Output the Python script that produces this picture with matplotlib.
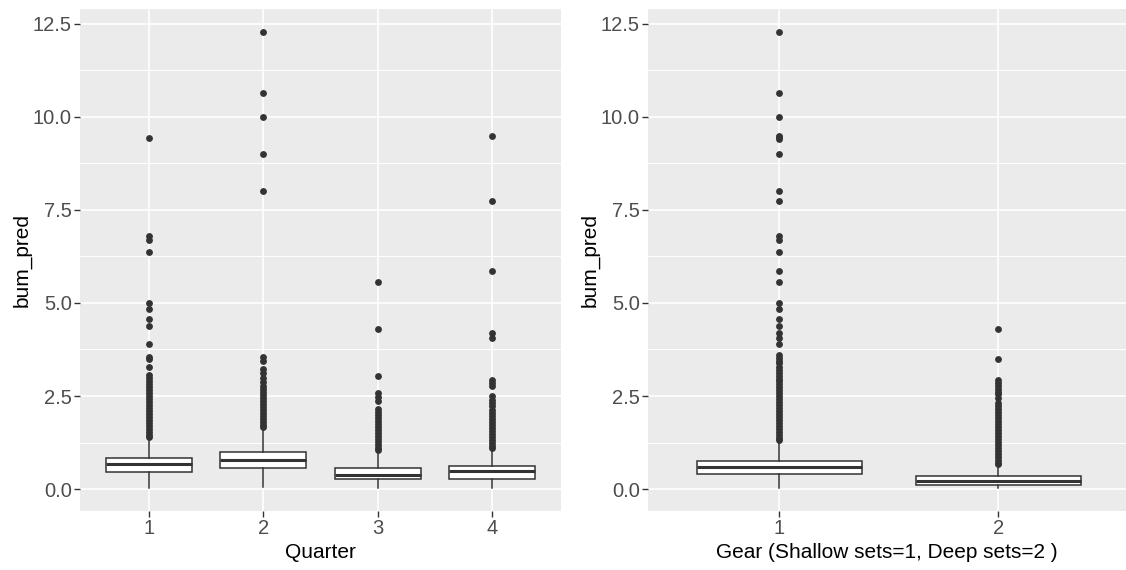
import numpy as np
import matplotlib
matplotlib.use("Agg")
import matplotlib.pyplot as plt
from matplotlib.ticker import MultipleLocator

plt.rcParams['font.family'] = ['Liberation Sans', 'DejaVu Sans']

# ---------------- data ----------------
quarters = ["1", "2", "3", "4"]
q_q1 = [0.47, 0.56, 0.26, 0.26]
q_med = [0.66, 0.78, 0.39, 0.49]
q_q3 = [0.84, 1.00, 0.57, 0.62]
q_lo = [0.035, 0.06, 0.035, 0.035]
q_hi = [1.37, 1.60, 1.02, 1.07]

q1_out = [9.43, 6.80, 6.68, 6.36, 4.99, 4.84, 4.57, 4.37, 3.89, 3.55, 3.50, 3.27,
          3.06, 2.98, 2.90, 2.82, 2.74, 2.66, 2.58, 2.50, 2.42, 2.34, 2.26, 2.18,
          2.10, 2.02, 1.94, 1.86, 1.78, 1.70, 1.62, 1.54, 1.46, 1.40]
q2_out = [12.29, 10.65, 10.00, 9.00, 8.01, 3.55, 3.45, 3.22, 3.12, 2.98, 2.88,
          2.76, 2.68, 2.60, 2.52, 2.44, 2.36, 2.28, 2.20, 2.12, 2.04, 1.96, 1.88,
          1.80, 1.72, 1.66]
q3_out = [5.56, 4.30, 3.05, 2.58, 2.47, 2.37, 2.14, 2.06, 1.98, 1.90, 1.82, 1.74,
          1.66, 1.58, 1.50, 1.42, 1.34, 1.26, 1.18, 1.10, 1.05]
q4_out = [9.50, 7.74, 5.87, 4.19, 4.07, 2.93, 2.85, 2.76, 2.50, 2.40, 2.30, 2.22,
          2.12, 2.04, 1.96, 1.88, 1.80, 1.72, 1.64, 1.56, 1.48, 1.40, 1.32, 1.24,
          1.16, 1.10]
quarter_outliers = [q1_out, q2_out, q3_out, q4_out]

gears = ["1", "2"]
g_q1 = [0.41, 0.12]
g_med = [0.59, 0.22]
g_q3 = [0.76, 0.34]
g_lo = [0.035, 0.02]
g_hi = [1.30, 0.65]

g1_out = [12.29, 10.65, 10.00, 9.50, 9.45, 9.40, 9.00, 8.01, 7.74, 6.80, 6.68,
          6.36, 5.87, 5.56, 4.99, 4.84, 4.57, 4.37, 4.19, 4.07, 3.89, 3.60, 3.52,
          3.45, 3.39, 3.29, 3.21, 3.13, 3.05, 2.97, 2.89, 2.81, 2.73, 2.65, 2.57,
          2.49, 2.41, 2.33, 2.25, 2.17, 2.09, 2.01, 1.93, 1.85, 1.77, 1.69, 1.61,
          1.53, 1.45, 1.37, 1.32]
g2_out = [4.30, 3.49, 2.93, 2.85, 2.77, 2.70, 2.62, 2.55, 2.46, 2.31, 2.23, 2.15,
          2.07, 1.99, 1.91, 1.83, 1.75, 1.67, 1.59, 1.51, 1.43, 1.35, 1.27, 1.19,
          1.11, 1.03, 0.95, 0.87, 0.79, 0.71, 0.67]
gear_outliers = [g1_out, g2_out]

y_ticks = [0.0, 2.5, 5.0, 7.5, 10.0, 12.5]
y_tick_labels = ["0.0", "2.5", "5.0", "7.5", "10.0", "12.5"]
y_label = "bum_pred"
x_label_left = "Quarter"
x_label_right = "Gear (Shallow sets=1, Deep sets=2 )"

# ---------------- figure ----------------
W, H = 1126, 570
fig = plt.figure(figsize=(W / 100, H / 100), dpi=100)

panel_bottom = (H - 511) / H
panel_height = (511 - 9) / H
ax1 = fig.add_axes([80 / W, panel_bottom, (561 - 80) / W, panel_height])
ax2 = fig.add_axes([648 / W, panel_bottom, (1126 - 648) / W, panel_height])

dark = '#333333'


def draw(ax, cats, q1, med, q3, lo, hi, outs, xlim, xlabel):
    stats = []
    for i in range(len(cats)):
        stats.append(dict(q1=q1[i], med=med[i], q3=q3[i], whislo=lo[i],
                          whishi=hi[i], fliers=np.array(outs[i])))
    pos = list(range(1, len(cats) + 1))
    ax.set_facecolor('#EBEBEB')
    ax.bxp(stats, positions=pos, widths=0.75, patch_artist=True,
           showcaps=False, showfliers=True,
           boxprops=dict(facecolor='white', edgecolor=dark, linewidth=1.1),
           medianprops=dict(color=dark, linewidth=2.2, solid_capstyle='butt'),
           whiskerprops=dict(color=dark, linewidth=1.1),
           flierprops=dict(marker='o', markerfacecolor=dark,
                           markeredgecolor=dark, markersize=3.9,
                           linestyle='none'),
           zorder=3)
    ax.set_xlim(*xlim)
    ax.set_ylim(-0.59, 12.90)
    ax.set_xticks(pos)
    ax.set_xticklabels(cats)
    ax.set_yticks(y_ticks)
    ax.set_yticklabels(y_tick_labels)
    ax.yaxis.set_minor_locator(MultipleLocator(1.25))
    ax.grid(which='major', color='white', linewidth=1.2, zorder=0)
    ax.grid(which='minor', axis='y', color='white', linewidth=0.7, zorder=0)
    ax.set_axisbelow(True)
    for s in ax.spines.values():
        s.set_visible(False)
    ax.tick_params(which='major', length=4, width=1.0, color=dark,
                   labelcolor='#4D4D4D', labelsize=14.5, pad=2)
    ax.tick_params(which='minor', length=0)
    ax.set_xlabel(xlabel, fontsize=15, color='black', labelpad=3)
    ax.set_ylabel(y_label, fontsize=15, color='black', labelpad=1)


draw(ax1, quarters, q_q1, q_med, q_q3, q_lo, q_hi, quarter_outliers,
     (0.4, 4.6), x_label_left)
draw(ax2, gears, g_q1, g_med, g_q3, g_lo, g_hi, gear_outliers,
     (0.4, 0.4 + (1126 - 648) / 219.0), x_label_right)

fig.savefig("out.png", dpi=100, facecolor='white')
